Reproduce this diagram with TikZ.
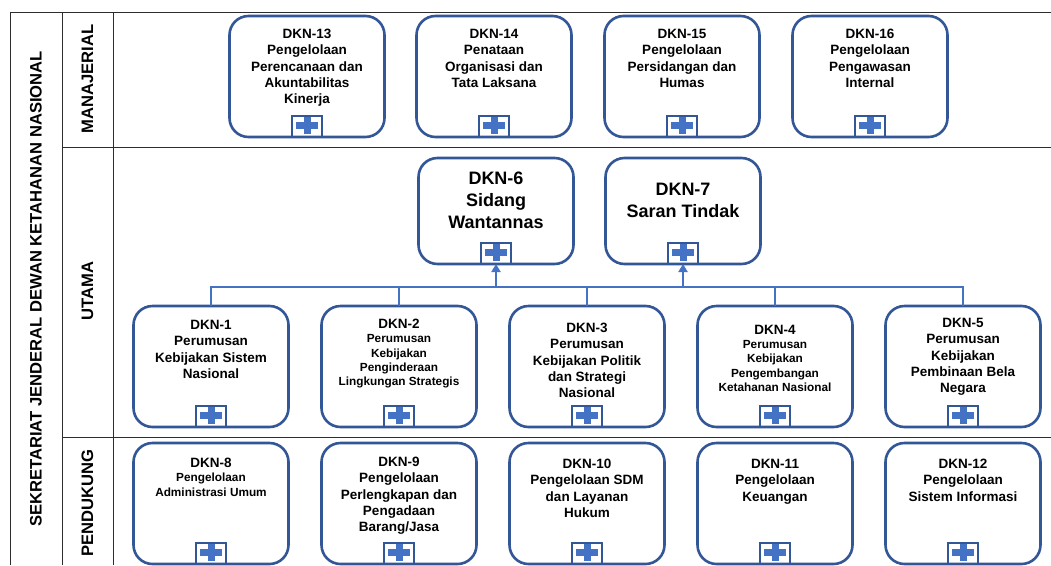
\documentclass[tikz,border=0pt]{standalone}
\usepackage{fontspec}
\setmainfont{Liberation Sans}
\usetikzlibrary{positioning,arrows.meta}
\definecolor{boxblue}{RGB}{50,86,150}
\definecolor{plusblue}{RGB}{68,114,196}
\definecolor{gridline}{RGB}{45,45,45}
\newcommand{\unitcode}[1]{{\fontsize{13.5}{16.3}\selectfont #1}}
\begin{document}
\begin{tikzpicture}[x=1pt,y=-1pt,>={Triangle[width=9pt,length=8pt]},
  unit/.style={draw=boxblue,line width=2.6pt,rounded corners=19pt,minimum width=155pt,
    inner sep=0pt,outer sep=0pt,anchor=north,fill=white},
  tall/.style={unit,minimum height=121pt},
  short/.style={unit,minimum height=106pt},
  title/.style={anchor=north,inner sep=0pt,align=center,font=\bfseries\fontsize{13.5}{16.3}\selectfont},
  fine/.style={title,font=\bfseries\fontsize{11.8}{14.2}\selectfont},
  big/.style={title,font=\bfseries\fontsize{18}{22}\selectfont},
  plusbox/.style={draw=boxblue,line width=2.2pt,minimum width=30pt,minimum height=21pt,
    inner sep=0pt,outer sep=0pt,anchor=south,
    path picture={
      \fill[plusblue] ([xshift=-11pt,yshift=-2pt]path picture bounding box.center) rectangle ++(22pt,6.5pt);
      \fill[plusblue] ([xshift=-3.5pt,yshift=-7.5pt]path picture bounding box.center) rectangle ++(7pt,17pt);}},
  rowlabel/.style={rotate=90,inner sep=0pt,font=\bfseries\fontsize{16.6}{19}\selectfont},
  grid/.style={draw=gridline,line width=0.9pt},
  link/.style={draw=plusblue,line width=2.4pt}]
\useasboundingbox (0,0) rectangle (1051,565);

%Table frame and row labels
\draw[grid] (10,12.5) -- (1051,12.5);
\draw[grid] (10,12.5) -- (10,565);
\draw[grid] (62,12.5) -- (62,565);
\draw[grid] (113,12.5) -- (113,565);
\draw[grid] (62,147) -- (1051,147);
\draw[grid] (62,437) -- (1051,437);
\node[rowlabel] (sekjen) at (36,289) {SEKRETARIAT JENDERAL DEWAN KETAHANAN NASIONAL};
\node[rowlabel] (manajerial) at (87.5,79) {MANAJERIAL};
\node[rowlabel] (utama) at (87.5,291) {UTAMA};
\node[rowlabel] (pendukung) at (87.5,503) {PENDUKUNG};

%Manajerial units
\node[tall] (d13) at (307,16) {};
\node[tall] (d14) at (494,16) {};
\node[tall] (d15) at (682,16) {};
\node[tall] (d16) at (870,16) {};
\node[title,below=13pt of d13.north] (t13) {DKN-13\\Pengelolaan\\Perencanaan dan\\Akuntabilitas\\Kinerja};
\node[title,below=13pt of d14.north] (t14) {DKN-14\\Penataan\\Organisasi dan\\Tata Laksana};
\node[title,below=13pt of d15.north] (t15) {DKN-15\\Pengelolaan\\Persidangan dan\\Humas};
\node[title,below=13pt of d16.north] (t16) {DKN-16\\Pengelolaan\\Pengawasan\\Internal};

%Utama units
\node[short] (d6) at (496,158) {};
\node[short] (d7) at (683,158) {};
\node[big,below=14pt of d6.north] (t6) {DKN-6\\Sidang\\Wantannas};
\node[big,below=25pt of d7.north] (t7) {DKN-7\\Saran Tindak};
\node[tall] (d1) at (211,306) {};
\node[tall] (d2) at (399,306) {};
\node[tall] (d3) at (587,306) {};
\node[tall] (d4) at (775,306) {};
\node[tall] (d5) at (963,306) {};
\node[title,below=14pt of d1.north] (t1) {DKN-1\\Perumusan\\Kebijakan Sistem\\Nasional};
\node[fine,below=13pt of d2.north] (t2) {\unitcode{DKN-2}\\Perumusan\\Kebijakan\\Penginderaan\\Lingkungan Strategis};
\node[title,below=17pt of d3.north] (t3) {DKN-3\\Perumusan\\Kebijakan Politik\\dan Strategi\\Nasional};
\node[fine,below=19pt of d4.north] (t4) {\unitcode{DKN-4}\\Perumusan\\Kebijakan\\Pengembangan\\Ketahanan Nasional};
\node[title,below=12pt of d5.north] (t5) {DKN-5\\Perumusan\\Kebijakan\\Pembinaan Bela\\Negara};

%Pendukung units
\node[tall] (d8) at (211,443) {};
\node[tall] (d9) at (399,443) {};
\node[tall] (d10) at (587,443) {};
\node[tall] (d11) at (775,443) {};
\node[tall] (d12) at (963,443) {};
\node[fine,below=15pt of d8.north] (t8) {\unitcode{DKN-8}\\Pengelolaan\\Administrasi Umum};
\node[title,below=14pt of d9.north] (t9) {DKN-9\\Pengelolaan\\Perlengkapan dan\\Pengadaan\\Barang/Jasa};
\node[title,below=16pt of d10.north] (t10) {DKN-10\\Pengelolaan SDM\\dan Layanan\\Hukum};
\node[title,below=16pt of d11.north] (t11) {DKN-11\\Pengelolaan\\Keuangan};
\node[title,below=16pt of d12.north] (t12) {DKN-12\\Pengelolaan\\Sistem Informasi};

%Expand markers
\foreach \n in {1,...,16}
    \node[plusbox] (p\n) at (d\n.south) {};

%Links from the policy units up to the council
\coordinate (bus) at (0,287);
\draw[link] (d1.north) -- (d1.north |- bus) -- (d5.north |- bus) -- (d5.north);
\foreach \n in {2,3,4}
    \draw[link] (d\n.north) -- (d\n.north |- bus);
\draw[link,->] (p6.south |- bus) -- (p6.south);
\draw[link,->] (p7.south |- bus) -- (p7.south);
\end{tikzpicture}
\end{document}
